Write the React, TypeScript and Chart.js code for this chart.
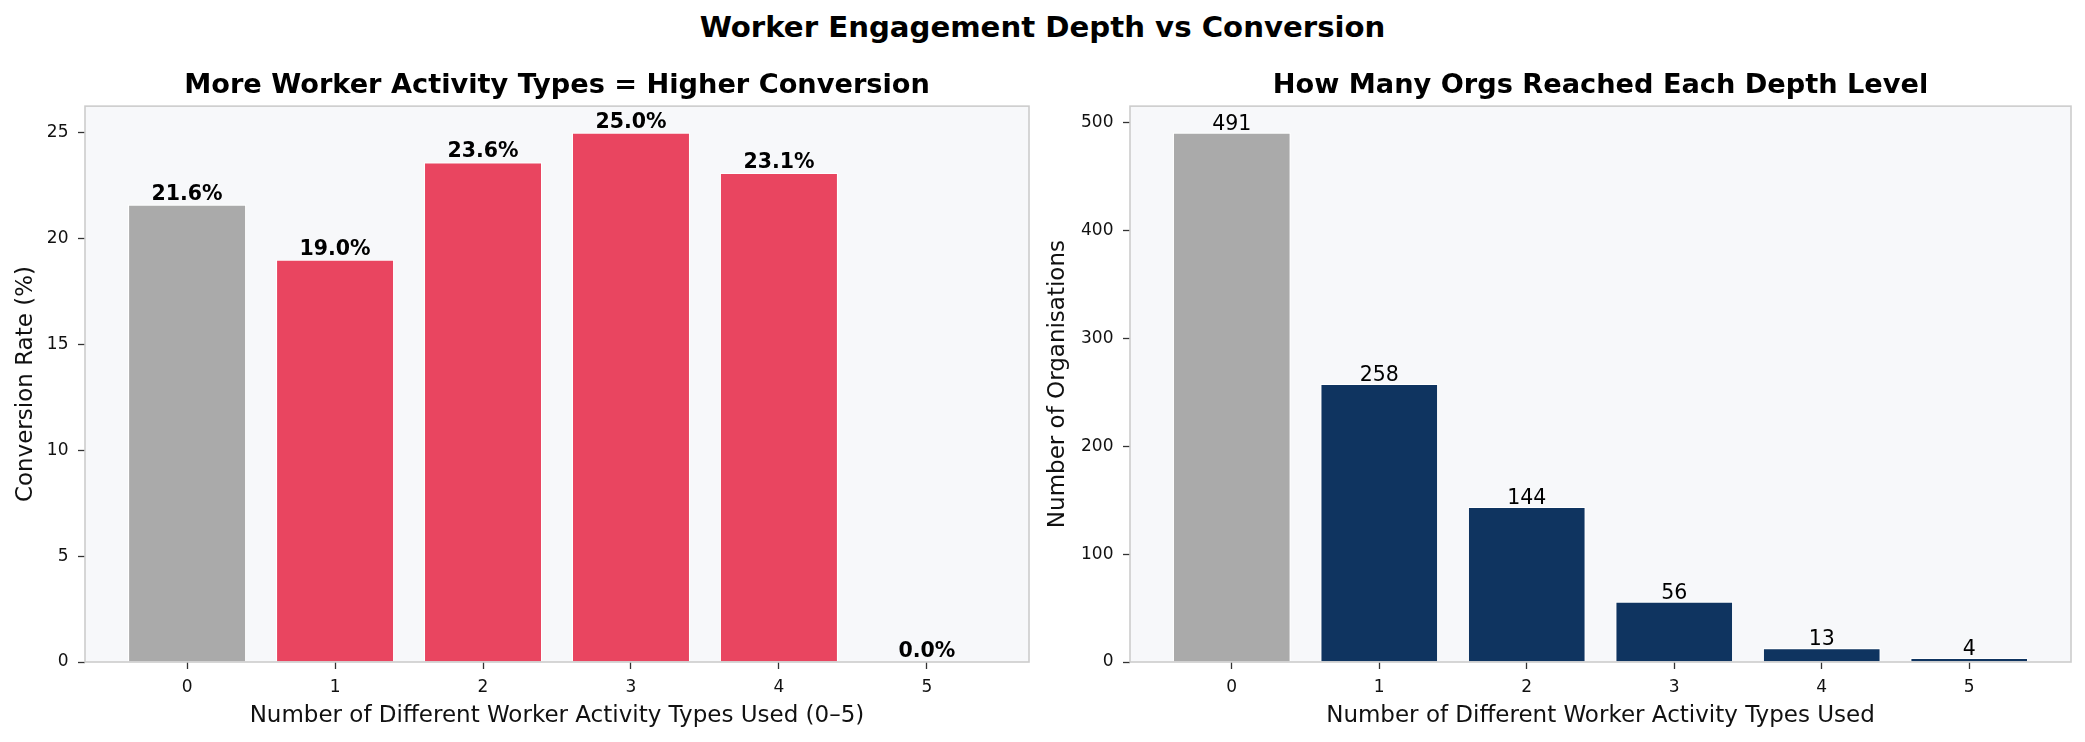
import React, { useEffect, useRef } from "react";
import { Chart, registerables } from "chart.js";

Chart.register(...registerables);

// data
const depthLevels = [0, 1, 2, 3, 4, 5];
const conversionRates = [21.6, 19.0, 23.6, 25.0, 23.1, 0.0];
const orgCounts = [491, 258, 144, 56, 13, 4];
const conversionTicks = [0, 5, 10, 15, 20, 25];
const orgTicks = [0, 100, 200, 300, 400, 500];

const FONT = "'DejaVu Sans', sans-serif";
const GREY = "#aaaaaa";
const RED = "#e94560";
const NAVY = "#0f3460";

type PanelProps = {
  values: number[];
  yTicks: number[];
  barColor: string;
  title: string;
  xLabel: string;
  yLabel: string;
  yAxisWidth: number;
  yTitlePad: number;
  labelFmt: (v: number) => string;
  labelBold: boolean;
  labelGap: number;
};

const framePlugin = {
  id: "frame",
  beforeDraw(chart: any) {
    const { ctx, chartArea: a } = chart;
    ctx.save();
    ctx.fillStyle = "#f7f8fa";
    ctx.fillRect(a.left, a.top, a.right - a.left, a.bottom - a.top);
    ctx.restore();
  },
  afterDatasetsDraw(chart: any) {
    const { ctx, chartArea: a } = chart;
    ctx.save();
    ctx.strokeStyle = "#cccccc";
    ctx.lineWidth = 1.6;
    ctx.strokeRect(a.left, a.top, a.right - a.left, a.bottom - a.top);
    ctx.restore();
  },
};

const Panel: React.FC<PanelProps> = (p) => {
  const ref = useRef<HTMLCanvasElement>(null);

  useEffect(() => {
    if (!ref.current) return;
    const colors = depthLevels.map((d) => (d === 0 ? GREY : p.barColor));
    const labelPlugin = {
      id: "barLabels",
      afterDraw(chart: any) {
        const { ctx } = chart;
        const meta = chart.getDatasetMeta(0);
        ctx.save();
        ctx.font = `${p.labelBold ? "bold " : ""}20.5px ${FONT}`;
        ctx.fillStyle = "#000";
        ctx.textAlign = "center";
        ctx.textBaseline = "alphabetic";
        meta.data.forEach((bar: any, i: number) => {
          ctx.fillText(p.labelFmt(p.values[i]), bar.x, bar.y - p.labelGap);
        });
        ctx.restore();
      },
    };
    const chart = new Chart(ref.current, {
      type: "bar",
      data: {
        datasets: [
          {
            data: depthLevels.map((d, i) => ({ x: d, y: p.values[i] })),
            backgroundColor: colors,
            borderColor: "#ffffff",
            borderWidth: 1.2,
            barPercentage: 0.8,
            categoryPercentage: 1.0,
          },
        ],
      },
      options: {
        animation: false,
        responsive: false,
        maintainAspectRatio: false,
        layout: { padding: { left: 0, right: 13, top: 0, bottom: 0 } },
        plugins: {
          legend: { display: false },
          tooltip: { enabled: false },
          title: {
            display: true,
            text: p.title,
            fullSize: false,
            color: "#000",
            font: { family: FONT, size: 27.2, weight: "bold", lineHeight: 1.2 },
            padding: { top: 69.5, bottom: 4 },
          },
        },
        scales: {
          x: {
            type: "linear",
            offset: false,
            min: -0.69,
            max: 5.69,
            afterFit: (s: any) => {
              s.height = 80;
            },
            afterBuildTicks: (s: any) => {
              s.ticks = depthLevels.map((v) => ({ value: v }));
            },
            grid: {
              offset: false,
              drawOnChartArea: false,
              drawTicks: true,
              tickLength: 7,
              tickColor: "#333",
              tickWidth: 1.3,
            },
            border: { display: false },
            ticks: {
              color: "#111",
              padding: 8,
              font: { family: FONT, size: 17, lineHeight: 1.2 },
            },
            title: {
              display: true,
              text: p.xLabel,
              color: "#111",
              font: { family: FONT, size: 23, lineHeight: 1.2 },
              padding: { top: 0, bottom: 12 },
            },
          },
          y: {
            type: "linear",
            min: 0,
            max: Math.max(...p.values) * 1.05,
            afterFit: (s: any) => {
              s.width = p.yAxisWidth;
            },
            afterBuildTicks: (s: any) => {
              s.ticks = p.yTicks.map((v) => ({ value: v }));
            },
            grid: {
              drawOnChartArea: false,
              drawTicks: true,
              tickLength: 7,
              tickColor: "#333",
              tickWidth: 1.3,
            },
            border: { display: false },
            ticks: {
              color: "#111",
              padding: 9.5,
              font: { family: FONT, size: 17, lineHeight: 1.2 },
            },
            title: {
              display: true,
              text: p.yLabel,
              color: "#111",
              font: { family: FONT, size: 23, lineHeight: 1.2 },
              padding: { top: p.yTitlePad, bottom: 0 },
            },
          },
        },
      },
      plugins: [framePlugin, labelPlugin],
    } as any);
    return () => {
      chart.destroy();
    };
  }, [p]);

  return <canvas ref={ref} width={1042} height={742} style={{ width: 1042, height: 742, display: "block" }} />;
};

const App: React.FC = () => {
  return (
    <div style={{ position: "absolute", left: 0, top: 0, width: 2085, height: 742, background: "#fff", overflow: "hidden" }}>
      <div
        style={{
          position: "absolute",
          left: 0,
          top: 13,
          width: 2085,
          textAlign: "center",
          fontFamily: FONT,
          fontWeight: "bold",
          fontSize: 29.2,
          lineHeight: "29px",
          color: "#000",
          WebkitFontSmoothing: "antialiased",
        }}
      >
        Worker Engagement Depth vs Conversion
      </div>
      <div style={{ position: "absolute", left: 0, top: 0 }}>
        <Panel
          values={conversionRates}
          yTicks={conversionTicks}
          barColor={RED}
          title="More Worker Activity Types = Higher Conversion"
          xLabel="Number of Different Worker Activity Types Used (0–5)"
          yLabel="Conversion Rate (%)"
          yAxisWidth={85}
          yTitlePad={12.7}
          labelFmt={(v) => `${v.toFixed(1)}%`}
          labelBold={true}
          labelGap={5}
        />
      </div>
      <div style={{ position: "absolute", left: 1042, top: 0 }}>
        <Panel
          values={orgCounts}
          yTicks={orgTicks}
          barColor={NAVY}
          title="How Many Orgs Reached Each Depth Level"
          xLabel="Number of Different Worker Activity Types Used"
          yLabel="Number of Organisations"
          yAxisWidth={88}
          yTitlePad={2.7}
          labelFmt={(v) => `${v}`}
          labelBold={false}
          labelGap={2.5}
        />
      </div>
    </div>
  );
};

export default App;
